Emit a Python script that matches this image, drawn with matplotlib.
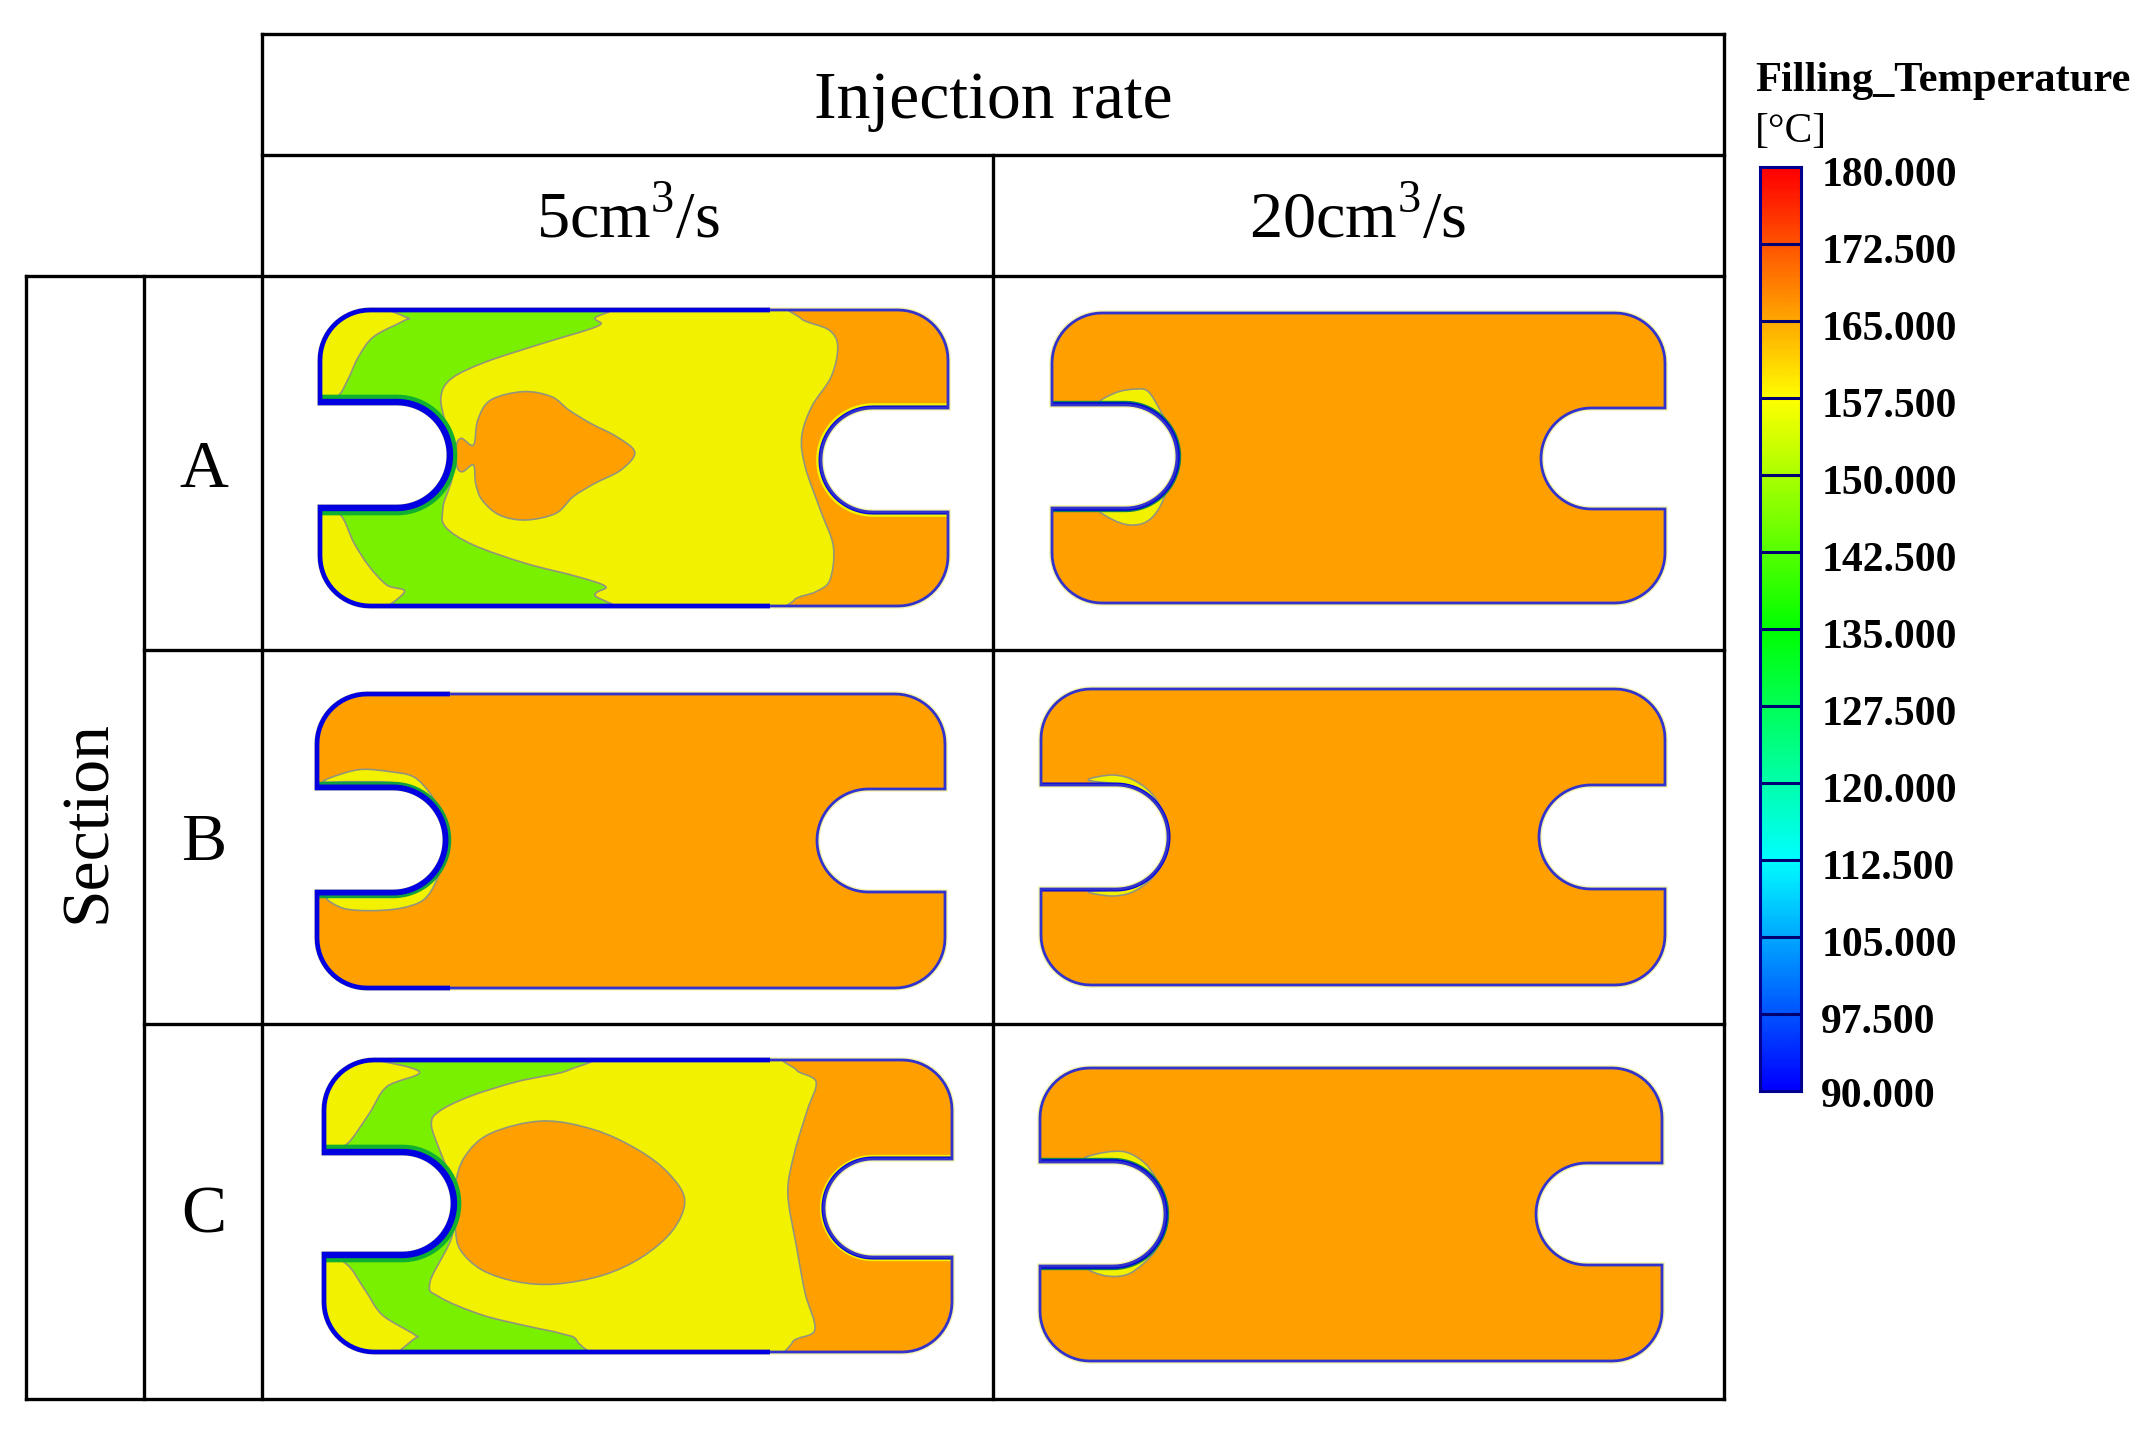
import numpy as np
import matplotlib
matplotlib.use("Agg")
import matplotlib.pyplot as plt
from matplotlib.colors import LinearSegmentedColormap
from matplotlib.patches import PathPatch, Rectangle
from matplotlib.path import Path

plt.rcParams['font.family'] = ['Liberation Serif', 'DejaVu Serif']
plt.rcParams['mathtext.fontset'] = 'custom'
plt.rcParams['mathtext.rm'] = 'Liberation Serif'

W, H = 2145, 1429

ORANGE = '#ffa000'
YELLOW = '#f2f200'
GREEN = '#78f000'
BLUE = '#0000e0'
CONTOUR = '#94947c'

# table grid lines, in reference pixels
grid_x = [26, 144, 262, 993, 1724]
grid_y = [34, 155, 276, 650, 1024, 1399]

rates = ['5cm$^{\\mathrm{3}}$/s', '20cm$^{\\mathrm{3}}$/s']
sections = ['A', 'B', 'C']

# colorbar
levels = [180.0, 172.5, 165.0, 157.5, 150.0, 142.5, 135.0, 127.5, 120.0, 112.5, 105.0, 97.5, 90.0]
level_labels = ['180.000', '172.500', '165.000', '157.500', '150.000', '142.500', '135.000',
                '127.500', '120.000', '112.500', '105.000', '97.500', '90.000']
cbar_colors = ['#0000ff', '#00ffff', '#00ff00', '#ffff00', '#ff0000']

# plate outlines: x0, x1, y0, y1, left notch (top, bottom, tip x), right notch (top, bottom, tip x)
plate_a5 = (320, 948, 310, 606, (403, 507, 449), (408, 512, 821))
plate_a20 = (1052, 1665, 313, 603, (405, 508, 1177), (408, 509, 1541))
plate_b5 = (317, 945, 694, 988, (788, 892, 445), (789, 892, 817))
plate_b20 = (1041, 1665, 689, 985, (785, 889, 1168), (785, 889, 1539))
plate_c5 = (324, 952, 1060, 1352, (1153, 1254, 453), (1159, 1257, 824))
plate_c20 = (1040, 1662, 1068, 1361, (1162, 1266, 1165), (1163, 1265, 1536))

a5_green_top = [(30, 70), (680, 70), (680, 115), (687, 138), (560, 190), (430, 245), (350, 295),
                (325, 350), (335, 430), (348, 510), (345, 540), (200, 540), (30, 400)]
a5_green_bot = [(345, 560), (330, 680), (335, 740), (400, 795), (520, 850), (640, 890), (705, 920),
                (680, 945), (700, 1010), (30, 1010), (30, 640), (200, 560)]
a5_yellow_top = [(20, 60), (150, 70), (245, 112), (240, 122), (170, 170), (135, 230), (110, 300),
                 (85, 350), (30, 370)]
a5_yellow_bot = [(30, 680), (90, 700), (125, 790), (160, 860), (200, 915), (240, 938), (150, 1010), (20, 1010)]
a5_orange_right = [(1150, 60), (1155, 115), (1220, 150), (1240, 200), (1225, 290), (1180, 380),
                   (1157, 470), (1165, 560), (1200, 690), (1230, 800), (1222, 900), (1190, 935),
                   (1140, 960), (1150, 1010), (1600, 1010), (1600, 60)]
a5_spade = [(515, 335), (580, 350), (620, 390), (670, 430), (730, 470), (772, 517), (740, 570),
            (680, 610), (630, 650), (590, 700), (520, 720), (460, 705), (420, 660), (405, 610),
            (400, 555), (375, 575), (362, 560), (360, 500), (372, 475), (400, 495), (410, 420), (440, 360)]

c5_green_top = [(30, 40), (640, 40), (620, 90), (500, 125), (390, 170), (320, 215), (303, 255),
                (325, 340), (355, 440), (355, 520), (200, 500), (30, 380)]
c5_green_bot = [(350, 560), (300, 725), (320, 770), (420, 825), (530, 860), (600, 880), (640, 905),
                (640, 1000), (30, 1000), (30, 640), (200, 560)]
c5_yellow_top = [(30, 40), (150, 55), (275, 95), (200, 140), (160, 220), (110, 310), (70, 325), (30, 330)]
c5_yellow_bot = [(40, 650), (105, 670), (150, 750), (190, 825), (265, 885), (260, 900), (150, 1000), (30, 1000)]
c5_orange_right = [(1145, 40), (1145, 90), (1190, 125), (1170, 210), (1140, 340), (1125, 460),
                   (1145, 620), (1165, 760), (1187, 870), (1135, 908), (1140, 1000), (1600, 1000), (1600, 40)]
c5_oval = [(560, 243), (680, 270), (780, 330), (850, 400), (887, 480), (860, 570), (790, 650),
           (700, 705), (590, 732), (500, 725), (420, 690), (370, 630), (358, 560), (358, 440),
           (380, 350), (440, 280)]

# yellow slivers round the left notch, 3x crops
a20_slivers = [[(180, 128), (230, 97), (290, 87), (325, 95), (360, 150), (395, 220), (405, 270), (350, 170), (280, 130)],
               [(180, 450), (220, 480), (270, 495), (320, 485), (360, 440), (400, 340), (395, 340), (340, 420), (270, 445)]]
b5_slivers = [[(40, 125), (100, 100), (160, 88), (240, 95), (310, 110), (360, 160), (390, 220), (410, 300), (340, 170), (260, 130), (130, 125)],
              [(50, 475), (100, 505), (180, 512), (270, 505), (340, 480), (380, 420), (410, 320), (360, 420), (270, 460), (100, 470)]]
b20_slivers = [[(175, 120), (250, 105), (320, 125), (380, 180), (415, 280), (340, 165), (270, 135)],
               [(175, 455), (250, 468), (320, 450), (385, 390), (415, 290), (350, 400), (270, 445)]]
c20_slivers = [[(165, 115), (225, 97), (290, 97), (350, 135), (390, 200), (340, 150), (270, 120)],
               [(175, 445), (230, 468), (300, 460), (370, 400), (395, 340), (340, 410), (270, 435)]]


def notch_points(top, bottom, tip, side):
    # U shaped notch: side=1 opens to the left edge, side=-1 opens to the right edge
    r = (bottom - top) / 2
    cy = (top + bottom) / 2
    cx = tip - side * r
    t = np.linspace(-np.pi / 2, np.pi / 2, 40)
    xs = cx + side * r * np.cos(t)
    ys = cy + r * np.sin(t)
    return list(zip(xs, ys))


def corner_points(cx, cy, r, a0, a1):
    t = np.radians(np.linspace(a0, a1, 16))
    return list(zip(cx + r * np.cos(t), cy + r * np.sin(t)))


def plate_path(plate, r=50):
    x0, x1, y0, y1, ln, rn = plate
    pts = corner_points(x0 + r, y0 + r, r, 180, 270)
    pts += corner_points(x1 - r, y0 + r, r, 270, 360)
    pts += [(x1, rn[0])]
    pts += notch_points(rn[0], rn[1], rn[2], -1)
    pts += [(x1, rn[1])]
    pts += corner_points(x1 - r, y1 - r, r, 0, 90)
    pts += corner_points(x0 + r, y1 - r, r, 90, 180)
    pts += [(x0, ln[1])]
    pts += notch_points(ln[0], ln[1], ln[2], 1)[::-1]
    pts += [(x0, ln[0])]
    return Path(pts + [pts[0]], closed=True)


def smooth_path(points):
    # closed Catmull-Rom run through the read points, as bezier pieces
    p = np.array(points, dtype=float)
    n = len(p)
    verts = [p[0]]
    codes = [Path.MOVETO]
    for i in range(n):
        a, b, c, d = p[i - 1], p[i], p[(i + 1) % n], p[(i + 2) % n]
        verts += [b + (c - a) / 6, c - (d - b) / 6, c]
        codes += [Path.CURVE4] * 3
    return Path(verts, codes)


def crop(points, ox, oy, sx=3.0, sy=3.0):
    return [(ox + x / sx, oy + y / sy) for x, y in points]


def add_region(ax, clip, points, color):
    patch = PathPatch(smooth_path(points), fc=color, ec=CONTOUR, lw=1.2, zorder=3)
    ax.add_patch(patch)
    patch.set_clip_path(clip, ax.transData)


def add_plate(ax, plate, base, heavy_to=None, regions=()):
    path = plate_path(plate)
    # pale halo of the original raster
    ax.add_patch(PathPatch(path, fc='none', ec='#f4f4b0', lw=4, zorder=1))
    ax.add_patch(PathPatch(path, fc=base, ec='none', zorder=2))
    for pts, color in regions:
        add_region(ax, path, pts, color)
    x0, x1, y0, y1, ln, rn = plate
    ax.add_patch(PathPatch(path, fc='none', ec='#3232cc', lw=2.0, zorder=5))
    # left part of the rim is colder, so it is a heavier blue
    if heavy_to:
        box = Rectangle((x0 - 10, y0 - 10), heavy_to - x0 + 10, y1 - y0 + 20, transform=ax.transData)
        rim = PathPatch(path, fc='none', ec=BLUE, lw=3.4, zorder=6)
        ax.add_patch(rim)
        rim.set_clip_path(box)
    return path


def add_notch_band(ax, plate, widths, side=1):
    x0, x1, y0, y1, ln, rn = plate
    path = plate_path(plate)
    if side == 1:
        pts = [(x0, ln[0])] + notch_points(ln[0], ln[1], ln[2], 1) + [(x0, ln[1])]
    else:
        pts = [(x1, rn[0])] + notch_points(rn[0], rn[1], rn[2], -1) + [(x1, rn[1])]
    for lw, color in widths:
        band = PathPatch(Path(pts), fc='none', ec=color, lw=lw, zorder=4)
        ax.add_patch(band)
        band.set_clip_path(path, ax.transData)


fig = plt.figure(figsize=(W / 100, H / 100), dpi=100, facecolor='white')
ax = fig.add_axes([0, 0, 1, 1])
ax.set_xlim(0, W)
ax.set_ylim(H, 0)
ax.axis('off')

# table lines
line_kw = dict(color='black', lw=2.4, solid_capstyle='projecting', zorder=8)
ax.plot([grid_x[2], grid_x[4]], [grid_y[0], grid_y[0]], **line_kw)
ax.plot([grid_x[2], grid_x[4]], [grid_y[1], grid_y[1]], **line_kw)
ax.plot([grid_x[0], grid_x[4]], [grid_y[2], grid_y[2]], **line_kw)
ax.plot([grid_x[1], grid_x[4]], [grid_y[3], grid_y[3]], **line_kw)
ax.plot([grid_x[1], grid_x[4]], [grid_y[4], grid_y[4]], **line_kw)
ax.plot([grid_x[0], grid_x[4]], [grid_y[5], grid_y[5]], **line_kw)
ax.plot([grid_x[0], grid_x[0]], [grid_y[2], grid_y[5]], **line_kw)
ax.plot([grid_x[1], grid_x[1]], [grid_y[2], grid_y[5]], **line_kw)
ax.plot([grid_x[2], grid_x[2]], [grid_y[0], grid_y[5]], **line_kw)
ax.plot([grid_x[3], grid_x[3]], [grid_y[1], grid_y[5]], **line_kw)
ax.plot([grid_x[4], grid_x[4]], [grid_y[0], grid_y[5]], **line_kw)

# table text
ax.text(993, 101, 'Injection rate', fontsize=48.7, ha='center', va='center')
ax.text(628, 221, rates[0], fontsize=47.8, ha='center', va='center')
ax.text(1358, 221, rates[1], fontsize=47.8, ha='center', va='center')
ax.text(88, 822, 'Section', fontsize=48.7, rotation=90, ha='center', va='center')
for name, y in zip(sections, [470, 843, 1216]):
    ax.text(204, y, name, fontsize=48.7, ha='center', va='center')

# section A, 5 cm3/s
ox, oy, sx = 300, 280, 2.306
add_plate(ax, plate_a5, YELLOW, heavy_to=770, regions=[
    (crop(a5_green_top, ox, oy, sx), GREEN),
    (crop(a5_green_bot, ox, oy, sx), GREEN),
    (crop(a5_yellow_top, ox, oy, sx), YELLOW),
    (crop(a5_yellow_bot, ox, oy, sx), YELLOW),
    (crop(a5_orange_right, ox, oy, sx), ORANGE),
    (crop(a5_spade, ox, oy, sx), ORANGE),
])
add_notch_band(ax, plate_a5, ((12, '#10b030'), (6, BLUE)))
add_notch_band(ax, plate_a5, ((7, YELLOW), (3.6, BLUE)), side=-1)

# section C, 5 cm3/s
ox, oy = 300, 1040
add_plate(ax, plate_c5, YELLOW, heavy_to=770, regions=[
    (crop(c5_green_top, ox, oy, sx), GREEN),
    (crop(c5_green_bot, ox, oy, sx), GREEN),
    (crop(c5_yellow_top, ox, oy, sx), YELLOW),
    (crop(c5_yellow_bot, ox, oy, sx), YELLOW),
    (crop(c5_orange_right, ox, oy, sx), ORANGE),
    (crop(c5_oval, ox, oy, sx), ORANGE),
])
add_notch_band(ax, plate_c5, ((12, '#10b030'), (6, BLUE)))
add_notch_band(ax, plate_c5, ((6, YELLOW), (3.6, BLUE)), side=-1)

# the plates that stayed hot
add_plate(ax, plate_b5, ORANGE, heavy_to=450,
          regions=[(crop(s, 310, 740), YELLOW) for s in b5_slivers])
add_notch_band(ax, plate_b5, ((9, '#10a040'), (5, BLUE)))
add_plate(ax, plate_a20, ORANGE,
          regions=[(crop(s, 1040, 360), YELLOW) for s in a20_slivers])
add_notch_band(ax, plate_a20, ((6, '#108050'), (4, BLUE)))
add_plate(ax, plate_b20, ORANGE,
          regions=[(crop(s, 1030, 740), YELLOW) for s in b20_slivers])
add_notch_band(ax, plate_b20, ((3.6, BLUE),))
add_plate(ax, plate_c20, ORANGE,
          regions=[(crop(s, 1030, 1120), YELLOW) for s in c20_slivers])
add_notch_band(ax, plate_c20, ((6, '#108050'), (4, BLUE)))

# legend
ax.text(1755, 81, 'Filling_Temperature', fontsize=30.6, fontweight='bold', ha='left', va='center')
ax.text(1755, 132, '[°C]', fontsize=30, ha='left', va='center')

cax = fig.add_axes([1760 / W, 1 - 1091 / H, 41 / W, 924 / H])
cmap = LinearSegmentedColormap.from_list('filling', cbar_colors)
grad = np.linspace(min(levels), max(levels), 361).reshape(-1, 1)
cax.imshow(grad, cmap=cmap, aspect='auto', origin='lower',
           extent=[0, 1, min(levels), max(levels)])
cax.set_xticks([])
cax.set_yticks([])
for spine in cax.spines.values():
    spine.set_color('#000090')
    spine.set_linewidth(2.2)
for level, label in zip(levels, level_labels):
    if level not in (levels[0], levels[-1]):
        cax.axhline(level, color='#000070', lw=2.2)
    dy = -4 if level == levels[-1] else -6.4
    cax.annotate(label, xy=(1, level), xycoords=('axes fraction', 'data'),
                 xytext=(14.5, dy), textcoords='offset points',
                 fontsize=30, fontweight='bold', ha='left', va='center', annotation_clip=False)

fig.savefig('out.png', dpi=100, facecolor='white')
